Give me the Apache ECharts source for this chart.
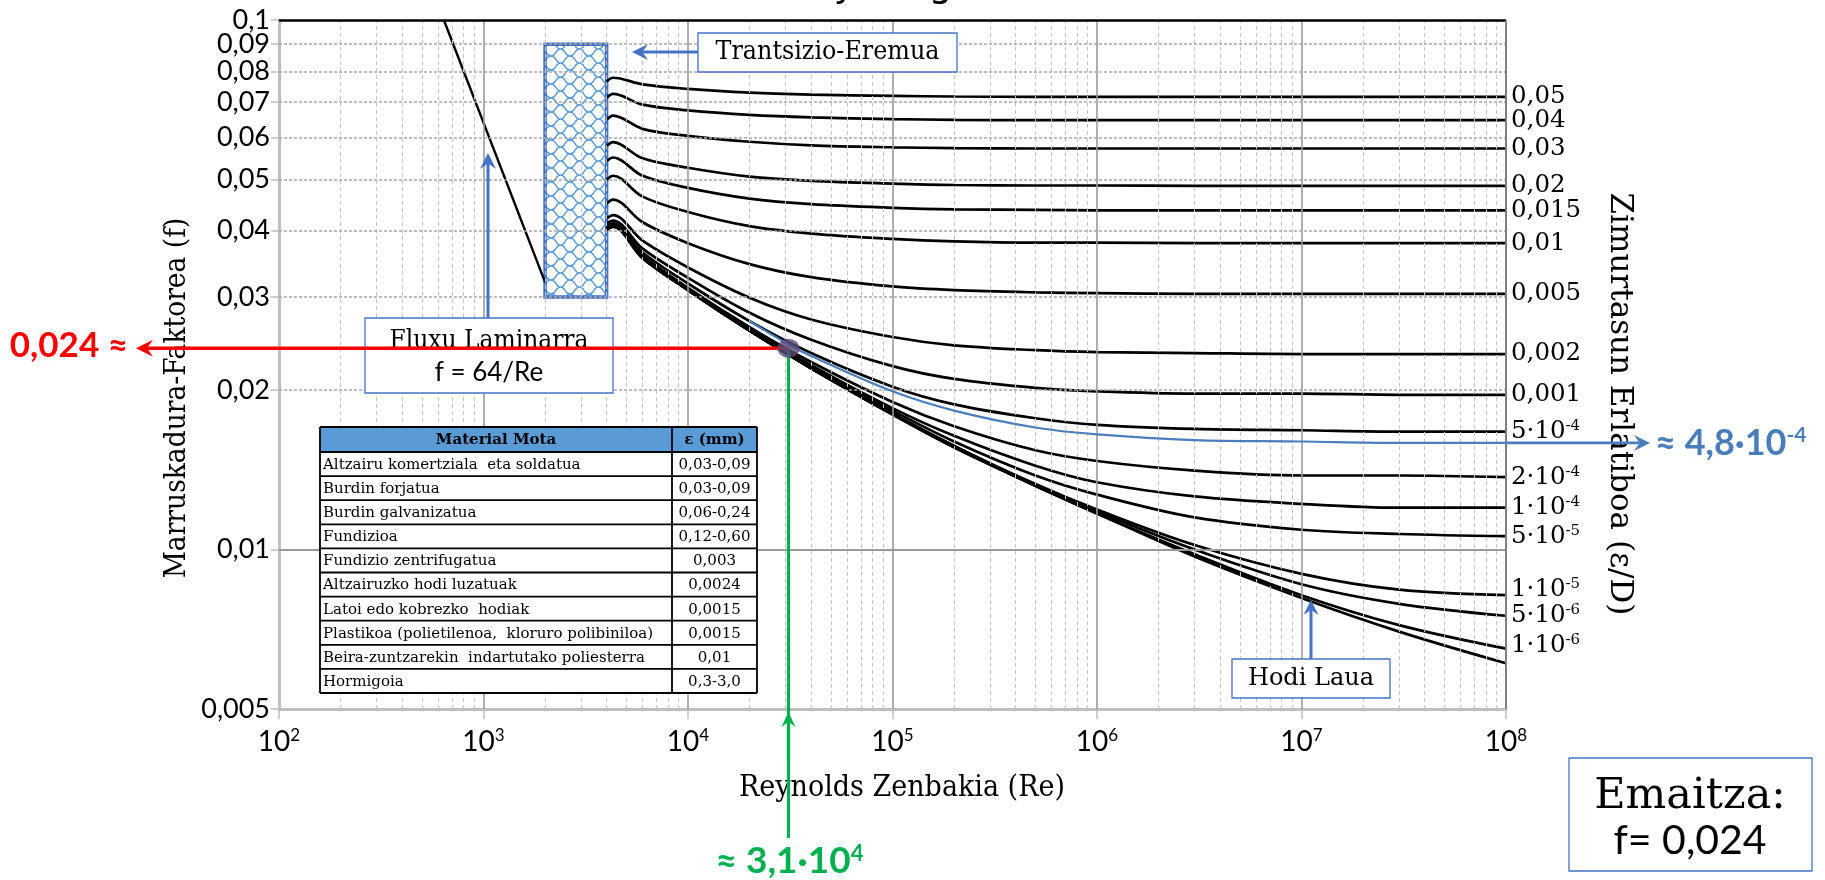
<!DOCTYPE html>
<html><head><meta charset="utf-8">
<script src="https://cdn.jsdelivr.net/npm/echarts@6/dist/echarts.min.js"></script>
<style>html,body{margin:0;padding:0;background:#fff}#c{width:1825px;height:880px}</style>
</head><body><div id="c"></div>
<script>
// ---------------- DATA ----------------
const RE = [4000, 4300, 6000, 1e4, 2e4, 4e4, 1e5, 2e5, 5e5, 1e6, 3e6, 1e7, 3e7, 1e8];
const F_0050 = [0.0765, 0.0778, 0.0756, 0.0741, 0.0729, 0.0723, 0.0719, 0.0717, 0.0716, 0.0716, 0.0716, 0.0716, 0.0716, 0.0716];
const F_0040 = [0.0712, 0.0725, 0.0692, 0.0675, 0.0662, 0.0655, 0.0650, 0.0648, 0.0647, 0.0647, 0.0647, 0.0647, 0.0647, 0.0647];
const F_0030 = [0.0648, 0.0660, 0.0623, 0.0604, 0.0589, 0.0580, 0.0575, 0.0573, 0.0572, 0.0572, 0.0572, 0.0572, 0.0572, 0.0572];
const F_0020 = [0.0578, 0.0588, 0.0548, 0.0526, 0.0506, 0.0497, 0.0491, 0.0488, 0.0487, 0.0487, 0.0486, 0.0486, 0.0486, 0.0486];
const F_0015 = [0.0541, 0.0550, 0.0508, 0.0482, 0.0460, 0.0449, 0.0442, 0.0439, 0.0438, 0.0437, 0.0437, 0.0437, 0.0437, 0.0437];
const F_0010 = [0.0499, 0.0508, 0.0464, 0.0434, 0.0408, 0.0395, 0.0386, 0.0382, 0.0380, 0.0380, 0.0379, 0.0379, 0.0379, 0.0379];
const F_0005 = [0.0450, 0.0458, 0.0415, 0.0379, 0.0346, 0.0327, 0.0314, 0.0309, 0.0306, 0.0305, 0.0304, 0.0304, 0.0304, 0.0304];
const F_0002 = [0.0422, 0.0428, 0.0383, 0.0341, 0.0299, 0.0272, 0.0252, 0.0243, 0.0238, 0.0236, 0.0235, 0.0234, 0.0234, 0.0234];
const F_0001 = [0.0413, 0.0418, 0.0370, 0.0326, 0.0280, 0.0249, 0.0222, 0.0210, 0.0202, 0.0199, 0.0197, 0.0197, 0.0196, 0.0196];
const F_5E4  = [0.0408, 0.0413, 0.0364, 0.0318, 0.0270, 0.0235, 0.0203, 0.0188, 0.0177, 0.0172, 0.0169, 0.0168, 0.0167, 0.0167];
const F_2E4  = [0.0405, 0.0410, 0.0360, 0.0312, 0.0263, 0.0226, 0.0190, 0.0171, 0.0154, 0.0147, 0.0141, 0.0138, 0.0138, 0.0137];
const F_1E4  = [0.0404, 0.0409, 0.0358, 0.0310, 0.0261, 0.0223, 0.0185, 0.0164, 0.0144, 0.0134, 0.0126, 0.0122, 0.0120, 0.0120];
const F_5E5  = [0.0403, 0.0408, 0.0357, 0.0310, 0.0260, 0.0221, 0.0183, 0.0160, 0.0138, 0.0127, 0.0115, 0.0109, 0.0107, 0.0106];
const F_1E5  = [0.0402, 0.0407, 0.0356, 0.0309, 0.0259, 0.0220, 0.0181, 0.0157, 0.0133, 0.0119, 0.0102, 0.0090, 0.0084, 0.0082];
const F_5E6  = [0.0402, 0.0407, 0.0356, 0.0309, 0.0259, 0.0220, 0.0180, 0.0157, 0.0132, 0.0118, 0.0100, 0.0086, 0.0079, 0.0075];
const F_1E6  = [0.0402, 0.0407, 0.0355, 0.0309, 0.0259, 0.0220, 0.0180, 0.0156, 0.0132, 0.0117, 0.0098, 0.0082, 0.0072, 0.0065];
const F_SMOOTH = [0.0402, 0.0407, 0.0355, 0.0309, 0.0259, 0.0220, 0.0180, 0.0156, 0.0132, 0.0117, 0.0097, 0.0081, 0.0070, 0.0061];

const ROUGH_CURVES = [F_0050, F_0040, F_0030, F_0020, F_0015, F_0010, F_0005, F_0002, F_0001, F_5E4, F_2E4, F_1E4, F_5E5, F_1E5, F_5E6, F_1E6];
const ROUGH_LABELS = ['0,05', '0,04', '0,03', '0,02', '0,015', '0,01', '0,005', '0,002', '0,001',
  '5·10{s|-4}', '2·10{s|-4}', '1·10{s|-4}', '5·10{s|-5}', '1·10{s|-5}', '5·10{s|-6}', '1·10{s|-6}'];

const BLUE_RE = [2e4, 3.1e4, 4e4, 1e5, 2e5, 5e5, 1e6, 3e6, 1e7, 3e7, 1e8];
const BLUE_F  = [0.0270, 0.0244, 0.0232, 0.0199, 0.0183, 0.0170, 0.0165, 0.0161, 0.0160, 0.0159, 0.0159];

const LAMINAR_RE = [640, 2000];
const LAMINAR_F  = [0.1, 0.032];
const TRANSITION_RE = [2000, 4000];
const TRANSITION_F  = [0.03, 0.09];
const RESULT_RE = 3.1e4;
const RESULT_F  = 0.024;

const X_TICKS = [1e2, 1e3, 1e4, 1e5, 1e6, 1e7, 1e8];
const Y_TICKS = [0.005, 0.01, 0.02, 0.03, 0.04, 0.05, 0.06, 0.07, 0.08, 0.09];
const Y_TOP_TICK = [0.1];
const Y_MINOR = [0.006, 0.007, 0.008, 0.009, 0.02, 0.03, 0.04, 0.05, 0.06, 0.07, 0.08, 0.09];

const TITLE_TEXT = 'Moody Diagrama';
const X_NAME = 'Reynolds Zenbakia (Re)';
const Y_NAME = 'Marruskadura-Faktorea (f)';
const Y2_NAME = 'Zimurtasun Erlatiboa (ε/D)';
const TABLE_HEAD = ['Material Mota', 'ε (mm)'];
const TABLE_MAT = ['Altzairu komertziala  eta soldatua', 'Burdin forjatua', 'Burdin galvanizatua', 'Fundizioa',
  'Fundizio zentrifugatua', 'Altzairuzko hodi luzatuak', 'Latoi edo kobrezko  hodiak',
  'Plastikoa (polietilenoa,  kloruro polibiniloa)', 'Beira-zuntzarekin  indartutako poliesterra', 'Hormigoia'];
const TABLE_EPS = ['0,03-0,09', '0,03-0,09', '0,06-0,24', '0,12-0,60', '0,003', '0,0024', '0,0015', '0,0015', '0,01', '0,3-3,0'];

// ---------------- LAYOUT / STYLE ----------------
const SERIF_C = "'DejaVu Serif Condensed', 'DejaVu Serif'";
const SERIF = "'DejaVu Serif'";
const SANS = "Lato";
const ANN_BLUE = '#4472C4';
const GRID = {left: 279, top: 20, width: 1227, height: 689};
const LABEL_DY = {13: -6, 15: -3};

const xMinor = [];
for (let d = 2; d <= 7; d++) for (let m = 2; m <= 9; m++) xMinor.push(m * Math.pow(10, d));
const xMajor = [1e3, 1e4, 1e5, 1e6, 1e7];
const yTopVals = Y_TOP_TICK.map(v => v * 0.999999);

function makePattern() {
  const c = document.createElement('canvas');
  c.width = 19; c.height = 14;
  const g = c.getContext('2d');
  g.fillStyle = '#fff'; g.fillRect(0, 0, 19, 14);
  g.strokeStyle = '#5B9BD5'; g.lineWidth = 1.3;
  g.beginPath();
  g.moveTo(0, 0); g.bezierCurveTo(6, 0, 4, 7, 9.5, 7); g.bezierCurveTo(15, 7, 13, 14, 19, 14);
  g.moveTo(19, 0); g.bezierCurveTo(13, 0, 15, 7, 9.5, 7); g.bezierCurveTo(4, 7, 6, 14, 0, 14);
  g.stroke();
  return c;
}

const gridLines = [];
xMinor.forEach(v => gridLines.push({xAxis: v, lineStyle: {color: '#C4C4C4', width: 1, type: [4, 3]}}));
xMajor.forEach(v => gridLines.push({xAxis: v, lineStyle: {color: '#9A9A9A', width: 1.6, type: 'solid'}}));
Y_MINOR.forEach(v => gridLines.push({yAxis: v, lineStyle: {color: '#A8A8A8', width: 1.6, type: [3, 2]}}));
gridLines.push({yAxis: 0.01, lineStyle: {color: '#9A9A9A', width: 2, type: 'solid'}});
gridLines.push({yAxis: 0.0999999, lineStyle: {color: '#000', width: 2.5, type: 'solid'}});
gridLines.push({xAxis: 1e8, lineStyle: {color: '#808080', width: 2, type: 'solid'}});

const CURVE_SMOOTH = 0.35;
const series = [];
series.push({
  type: 'line', data: [[100, 0.005]], symbol: 'none', lineStyle: {opacity: 0}, z: 1, silent: true,
  markLine: {silent: true, symbol: ['none', 'none'], label: {show: false}, animation: false, data: gridLines}
});
series.push({
  type: 'line', data: [[TRANSITION_RE[0], TRANSITION_F[0]]], symbol: 'none', lineStyle: {opacity: 0}, z: 3, silent: true,
  markArea: {silent: true, animation: false, label: {show: false},
    itemStyle: {color: {image: makePattern(), repeat: 'repeat'}, borderColor: ANN_BLUE, borderWidth: 3.5, opacity: 1},
    data: [[{xAxis: TRANSITION_RE[0], yAxis: TRANSITION_F[0]}, {xAxis: TRANSITION_RE[1], yAxis: TRANSITION_F[1]}]]}
});
series.push({
  type: 'line', data: LAMINAR_RE.map((r, i) => [r, LAMINAR_F[i]]), symbol: 'none', silent: true, z: 4,
  lineStyle: {color: '#000', width: 2.4}
});
ROUGH_CURVES.forEach((arr, k) => {
  series.push({
    type: 'line', data: RE.map((r, i) => [r, arr[i]]), symbol: 'none', showSymbol: false, silent: true,
    smooth: CURVE_SMOOTH, z: 4,
    lineStyle: {color: '#000', width: 2.7},
    endLabel: {
      show: true, formatter: () => ROUGH_LABELS[k], distance: 5, offset: [0, LABEL_DY[k] || 0],
      color: '#000', fontFamily: SERIF, fontSize: 24.5, lineHeight: 26,
      rich: {s: {fontFamily: SERIF, fontSize: 15, lineHeight: 15, verticalAlign: 'top', color: '#000'}}
    }
  });
});
series.push({
  type: 'line', data: RE.map((r, i) => [r, F_SMOOTH[i]]), symbol: 'none', showSymbol: false, silent: true,
  smooth: CURVE_SMOOTH, z: 4, lineStyle: {color: '#000', width: 2.7}
});
series.push({
  type: 'line', data: BLUE_RE.map((r, i) => [r, BLUE_F[i]]), symbol: 'none', showSymbol: false, silent: true,
  smooth: CURVE_SMOOTH, z: 5, lineStyle: {color: '#4A7EBB', width: 2.2}
});
series.push({
  type: 'scatter', data: [[RESULT_RE, RESULT_F]], symbol: 'circle', symbolSize: [22, 19], silent: true, z: 30,
  itemStyle: {color: '#5A4C78'}
});

const yLabelStyle = {margin: 9, color: '#000', fontFamily: SANS, fontSize: 27, lineHeight: 20,
  formatter: v => String(+(+v).toPrecision(3)).replace('.', ',')};

const option = {
  animation: false,
  backgroundColor: '#fff',
  grid: GRID,
  xAxis: {
    type: 'log', logBase: 10, min: 100, max: 1e8,
    axisLine: {show: true, lineStyle: {color: '#BFBFBF', width: 3}},
    axisTick: {show: true, customValues: X_TICKS, length: 10, lineStyle: {color: '#BFBFBF', width: 1.5}},
    axisLabel: {
      customValues: X_TICKS, margin: 18, color: '#000', hideOverlap: false,
      formatter: v => '{b|10}{s|' + Math.round(Math.log10(v)) + '}',
      rich: {b: {fontFamily: SANS, fontSize: 28, lineHeight: 30, color: '#000'},
             s: {fontFamily: SANS, fontSize: 17, lineHeight: 17, verticalAlign: 'top', color: '#000'}}
    },
    splitLine: {show: false}, minorTick: {show: false}, minorSplitLine: {show: false}
  },
  yAxis: [{
    type: 'log', logBase: 10, min: 0.005, max: 0.1, position: 'left',
    axisLine: {show: true, lineStyle: {color: '#BFBFBF', width: 3}},
    axisTick: {show: true, customValues: Y_TICKS, length: 8, lineStyle: {color: '#BFBFBF', width: 1.5}},
    axisLabel: Object.assign({customValues: Y_TICKS, showMaxLabel: true, showMinLabel: true, hideOverlap: false}, yLabelStyle),
    splitLine: {show: false}, minorTick: {show: false}, minorSplitLine: {show: false}
  }, {
    type: 'log', logBase: 10, min: 0.005, max: 0.1, position: 'left', offset: 0,
    axisLine: {show: false},
    axisTick: {show: true, customValues: yTopVals, length: 8, lineStyle: {color: '#BFBFBF', width: 1.5}},
    axisLabel: Object.assign({customValues: yTopVals, showMaxLabel: true, showMinLabel: true}, yLabelStyle),
    splitLine: {show: false}, minorTick: {show: false}, minorSplitLine: {show: false}
  }],
  series
};

const chart = echarts.init(document.getElementById('c'), null, {renderer: 'canvas'});
chart.setOption(option);

// ---------------- ANNOTATIONS ----------------
function txt(x, y, text, o) {
  return {
    type: 'text', x, y, rotation: o.rot || 0, z: o.z || 12, silent: true,
    style: {
      text, x: 0, y: 0, fill: o.color || '#000', fontSize: o.size, fontFamily: o.family,
      fontWeight: o.weight || 'normal', textAlign: o.align || 'center', align: o.align || 'center',
      textVerticalAlign: o.va || 'middle', verticalAlign: o.va || 'middle', rich: o.rich
    }
  };
}
function rect(x, y, w, h, fill, stroke, lw, z) {
  return {type: 'rect', z: z || 10, silent: true, shape: {x, y, width: w, height: h},
    style: {fill: fill, stroke: stroke, lineWidth: lw}};
}
function seg(x1, y1, x2, y2, color, lw, z) {
  return {type: 'line', z: z || 11, silent: true, shape: {x1, y1, x2, y2}, style: {stroke: color, lineWidth: lw}};
}
function arrow(x1, y1, x2, y2, color, lw, hl, hw, z) {
  const dx = x2 - x1, dy = y2 - y1, L = Math.hypot(dx, dy), ux = dx / L, uy = dy / L, nx = -uy, ny = ux;
  const bx = x2 - ux * hl, by = y2 - uy * hl, mx = x2 - ux * hl * 0.65, my = y2 - uy * hl * 0.65;
  return [seg(x1, y1, mx, my, color, lw, z),
    {type: 'polygon', z: z || 11, silent: true,
     shape: {points: [[x2, y2], [bx + nx * hw, by + ny * hw], [mx, my], [bx - nx * hw, by - ny * hw]]},
     style: {fill: color}}];
}

const P = chart.convertToPixel({gridIndex: 0}, [RESULT_RE, RESULT_F]);
const BLUE_END = chart.convertToPixel({gridIndex: 0}, [BLUE_RE[BLUE_RE.length - 1], BLUE_F[BLUE_F.length - 1]]);
const plotRight = GRID.left + GRID.width, plotBottom = GRID.top + GRID.height;

const g = [];
g.push(txt(733, -14, TITLE_TEXT, {size: 37, family: "'DejaVu Sans'", align: 'left'}));
g.push(txt(177, 398, Y_NAME, {size: 29.5, family: SERIF_C, rot: Math.PI / 2}));
g.push(txt(1619, 404, Y2_NAME, {size: 31, family: SERIF, rot: -Math.PI / 2}));
g.push(txt(902, 788, X_NAME, {size: 30, family: SERIF_C}));

// Trantsizio-Eremua
g.push(rect(698, 33, 259, 39, '#fff', ANN_BLUE, 1.3, 8));
g.push(txt(827.5, 52.5, 'Trantsizio-Eremua', {size: 26.5, family: SERIF_C, z: 9}));
g.push(...arrow(698, 52, 632, 52, ANN_BLUE, 3, 16, 8, 9));

// Fluxu Laminarra
g.push(rect(365, 318, 248, 75, '#fff', ANN_BLUE, 1.3, 8));
g.push(txt(489, 341, 'Fluxu Laminarra', {size: 26, family: SERIF_C, z: 9}));
g.push(txt(489, 373, 'f = 64/Re', {size: 26, family: SANS, z: 9}));
g.push(...arrow(488, 318, 488, 153, ANN_BLUE, 3, 16, 8, 9));

// Hodi Laua
g.push(rect(1232, 659, 158, 39, '#fff', ANN_BLUE, 1.3, 8));
g.push(txt(1311, 679, 'Hodi Laua', {size: 24, family: SERIF, z: 9}));
g.push(...arrow(1311, 659, 1311, 600, ANN_BLUE, 3, 15, 7.5, 9));

// Emaitza
g.push(rect(1569, 758, 243, 113, '#fff', ANN_BLUE, 1.3, 8));
g.push(txt(1690, 797, 'Emaitza:', {size: 43, family: SERIF, z: 9}));
g.push(txt(1690, 841, 'f= 0,024', {size: 41, family: SANS, z: 9}));

// Table
const TX = 320, TY = 427, TW = 437, TC = 672, HH = 25, RH = 24.1;
const tableH = HH + RH * TABLE_MAT.length;
g.push(rect(TX, TY, TW, tableH, '#fff', null, 0, 8));
g.push(rect(TX, TY, TW, HH, '#5B9BD5', null, 0, 8));
g.push(txt((TX + TC) / 2, TY + HH / 2 + 1, TABLE_HEAD[0], {size: 15, family: SERIF, weight: 'bold', z: 9}));
g.push(txt((TC + TX + TW) / 2, TY + HH / 2 + 1, TABLE_HEAD[1], {size: 15, family: SERIF, weight: 'bold', z: 9}));
TABLE_MAT.forEach((m, i) => {
  const cy = TY + HH + RH * i + RH / 2 + 1;
  g.push(txt(TX + 3, cy, m, {size: 15, family: SERIF, align: 'left', z: 9}));
  g.push(txt((TC + TX + TW) / 2, cy, TABLE_EPS[i], {size: 15, family: SERIF, z: 9}));
});
for (let i = 0; i <= TABLE_MAT.length; i++) {
  const y = TY + HH + RH * i;
  g.push(seg(TX, y, TX + TW, y, '#000', 1.8, 9));
}
g.push(seg(TX, TY, TX + TW, TY, '#000', 1.8, 9));
g.push(seg(TX, TY, TX, TY + tableH, '#000', 1.8, 9));
g.push(seg(TC, TY, TC, TY + tableH, '#000', 1.8, 9));
g.push(seg(TX + TW, TY, TX + TW, TY + tableH, '#000', 1.8, 9));

// Red line (f result)
g.push(...arrow(P[0], P[1], 136, P[1], '#FF0000', 3.5, 17, 8.5, 20));
g.push(txt(128, P[1] - 3, '0,024 ≈', {size: 35, family: SANS, weight: 'bold', color: '#FF0000', align: 'right', z: 20}));

// Green line (Re result)
g.push(seg(P[0], P[1], P[0], 838, '#00B050', 3.2, 20));
g.push(...arrow(P[0], 760, P[0], plotBottom + 3, '#00B050', 3.2, 15, 7, 20));
g.push(txt(P[0] + 1, 861, '≈ 3,1·10{s|4}', {size: 37, family: SANS, weight: 'bold', color: '#00B050', z: 20,
  rich: {s: {fontSize: 22, fontFamily: SANS, fontWeight: 'bold', fill: '#00B050', color: '#00B050', verticalAlign: 'top', lineHeight: 22}}}));

// Blue (relative roughness result)
g.push(...arrow(plotRight, BLUE_END[1], 1650, BLUE_END[1], '#4A7EBB', 2.6, 16, 8, 20));
g.push(txt(1655, BLUE_END[1], '≈ 4,8·10{s|-4}', {size: 36, family: SANS, weight: 'bold', color: '#4A7EBB', align: 'left', z: 20,
  rich: {s: {fontSize: 21, fontFamily: SANS, fontWeight: 'bold', fill: '#4A7EBB', color: '#4A7EBB', verticalAlign: 'top', lineHeight: 21}}}));

chart.setOption({graphic: {elements: g}});
</script>
</body></html>
